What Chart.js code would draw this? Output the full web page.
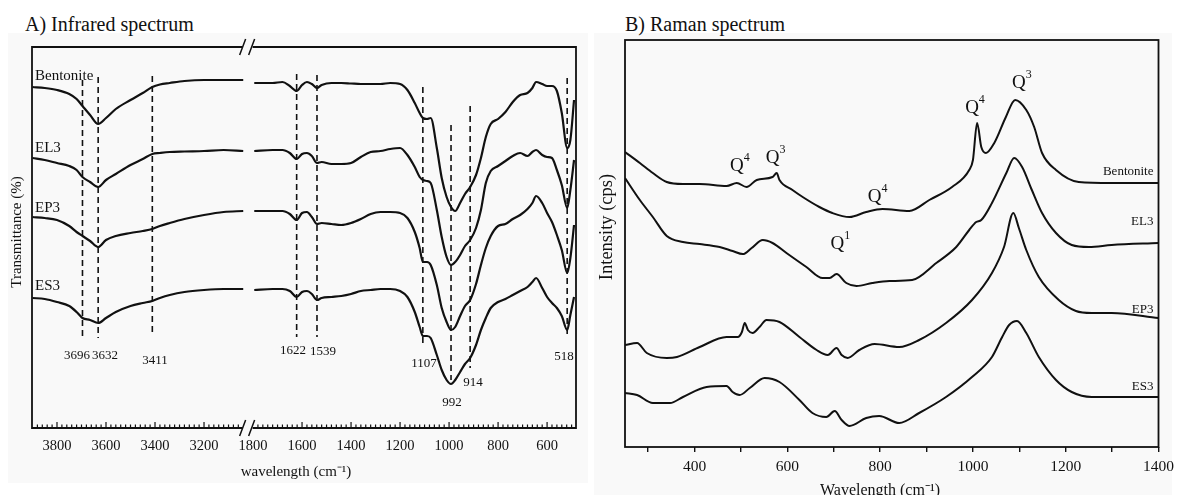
<!DOCTYPE html>
<html>
<head>
<meta charset="utf-8">
<script src="https://cdn.jsdelivr.net/npm/chart.js@4"></script>
<style>
body { margin: 0; background: #fff; font-family: "Liberation Serif", serif; }
#wrap { position: relative; width: 1180px; height: 495px; overflow: hidden; }
.panel { position: absolute; background: #f9f9f9; }
canvas { position: absolute; top: 0; }
.title { position: absolute; font-size: 20px; color: #111; white-space: nowrap; }
</style>
</head>
<body>
<div id="wrap">
  <div class="panel" style="left:8px;top:33px;width:580px;height:450px"></div>
  <div class="panel" style="left:594px;top:33px;width:578px;height:462px"></div>
  <div class="title" style="left:25px;top:13px">A) Infrared spectrum</div>
  <div class="title" style="left:625px;top:13px">B) Raman spectrum</div>
  <canvas id="irChart" width="590" height="495" style="left:0"></canvas>
  <canvas id="ramanChart" width="590" height="495" style="left:590px"></canvas>
</div>
<script>
// ---- IR data (offset transmittance, arbitrary units) ----
const irSamples = ['Bentonite', 'EL3', 'EP3', 'ES3'];
const irWaveHigh = [3900,3850,3800,3750,3720,3696,3665,3632,3600,3560,3500,3450,3411,3380,3340,3280,3200,3120,3040];
const irWaveLow = [1795,1720,1680,1650,1622,1600,1580,1560,1539,1520,1480,1440,1400,1360,1320,1280,1240,1200,1170,1140,
  1120,1107,1090,1075,1050,1030,1010,992,975,955,935,914,890,870,850,830,800,770,740,710,680,660,645,620,600,580,560,540,518,505,490];

const irBentoniteHigh = [341,340,338,334,329,322,313,304,310,319,328,335,341,343.5,345,347,348,348,348];
const irEL3High = [270,268,265,262,258,251,246,241,248,254,263,269,274,275,276,276.5,277,278,277];
const irEP3High = [211,210,208,202,196,192,187,181,188,192,195,197,199,202,205,209,213,216,217];
const irES3High = [130,129,126,122,116,110,108,105,110,116,122,125,127,130,133,136,138,139,139];

const irBentoniteLow = [345,345,346,342,337,343,346,344,340,343,345,345,344.5,344,344,344,345,344,338,325,
  315,310,309,310,280,250,231,221,217,225,234,241,253,270,291,304,309,316,326,333,335,340,346,344,342,342,337,315,280,288,328];
const irEL3Low = [277,278,278,275,269,274,275,272,265,266,264,264,265,271,276,277,279,280,273,261,
  251,248,247,245,218,191,171,163,166,173,182,188,200,218,245,257,262,267,272,275,272,276,278,273,271,270,258,243,220,238,268];
const irEP3Low = [217,217,217,214,208,215,216,211,204,205,204,203,205,209,214,216,216,215,210,196,
  180,166,166,163,143,120,106,98,101,112,122,128,144,163,180,192,202,204,209,213,219,225,232,225,215,206,193,178,155,170,203];
const irES3Low = [138,139,139,137,131,136,137,134,128,130,131,132,134,137,138,139,139,137,131,116,
  101,92,92,90,73,58,48,44,48,56,64,70,83,98,110,120,126,129,133,137,141,146,150,140,131,125,120,112,98,113,131];

const irPeaks = [3696, 3632, 3411, 1622, 1539, 1107, 992, 914, 518];
const irTickLabels = [3800, 3600, 3400, 3200, 1800, 1600, 1400, 1200, 1000, 800, 600];

// ---- Raman data (offset intensity, arbitrary units) ----
const ramanSamples = ['Bentonite', 'EL3', 'EP3', 'ES3'];
const ramanWaveBentonite = [250,282,310,340,375,411,469,491,512,534,568,577,583,611,633,669,697,734,770,805,863,906,955,992,1000,1009,1018,1028,1046,1071,1091,1115,1132,1149,1179,1228,1299,1400];
const ramanBentonite = [295,284,274,265,263,263,261,264,260,267,270,274,267,257,250,240,234,230,235,238,236,247,260,277,287,324,300,294,304,330,347,337,320,294,277,265,264,264];
const ramanWaveEL3 = [250,282,310,340,375,411,454,482,504,523,547,568,598,641,676,691,706,727,749,783,820,869,921,964,992,1007,1018,1041,1072,1089,1106,1127,1149,1179,1213,1250,1299,1400];
const ramanEL3 = [269,247,230,211,205,203,200,196,193,199,207,204,194,180,169,169,173,164,161,164,166,167,184,200,217,225,227,244,274,289,280,257,234,214,202,200,202,204];
const ramanWaveEP3 = [250,276,297,340,362,411,469,493,502,508,515,525,540,555,583,626,663,687,706,717,730,755,788,841,884,942,998,1041,1067,1087,1099,1115,1142,1185,1222,1256,1299,1400];
const ramanEP3 = [102,104,94,89,90,100,110,110,115,124,117,114,120,127,125,110,97,92,99,92,89,97,103,100,107,124,147,174,200,234,219,197,170,147,136,134,134,129];
const ramanWaveES3 = [250,276,310,347,375,426,469,482,497,519,551,583,626,654,684,702,717,734,770,798,841,884,942,998,1041,1063,1078,1095,1115,1142,1179,1213,1256,1400];
const ramanES3 = [54,52,44,44,50,60,61,55,52,59,69,65,47,34,30,36,27,21,29,31,24,34,50,70,90,110,122,126,114,90,67,55,50,50];
const ramanTickLabels = [400, 600, 800, 1000, 1200, 1400];

// high-frequency part of the IR axis is drawn shifted left by this amount (axis break)
const BREAK_SHIFT = 1200;
const toAxis = w => (w > 2000 ? w - BREAK_SHIFT : w);
const fromAxis = p => (p > 1830 ? p + BREAK_SHIFT : p);

const INK = '#111';
const SERIF = '"Liberation Serif", "Times New Roman", serif';
Chart.defaults.font.family = SERIF;
Chart.defaults.color = INK;

function irSeries(high, low) {
  const pts = irWaveHigh.map((w, i) => ({ x: toAxis(w), y: high[i] }));
  pts.push({ x: 1820, y: null });
  return pts.concat(irWaveLow.map((w, i) => ({ x: w, y: low[i] })));
}
const irHigh = [irBentoniteHigh, irEL3High, irEP3High, irES3High];
const irLow = [irBentoniteLow, irEL3Low, irEP3Low, irES3Low];

// annotation placement (value units)
const irPeakSpan = [[348,90],[351,90],[352,92],[354,91],[353,91],[341,81],[303,48],[322,60],[350,91]];
const irPeakLabelAt = [[3718,72],[3604,72],[3400,67],[1637,77],[1514,76],[1102,64],[988,25],[902,45],[531,71]];
const irNameLevel = [352, 280, 220, 142];

const irDecor = {
  id: 'irDecor',
  beforeDatasetsDraw(chart) {
    const { ctx, scales: { x, y } } = chart;
    ctx.save();
    ctx.strokeStyle = INK;
    ctx.lineWidth = 1.6;
    ctx.setLineDash([6, 4]);
    irPeaks.forEach((w, i) => {
      const px = x.getPixelForValue(toAxis(w));
      ctx.beginPath();
      ctx.moveTo(px, y.getPixelForValue(irPeakSpan[i][0]));
      ctx.lineTo(px, y.getPixelForValue(irPeakSpan[i][1]));
      ctx.stroke();
    });
    ctx.restore();
  },
  afterDraw(chart) {
    const { ctx, chartArea: a, scales: { x, y } } = chart;
    const bx = x.getPixelForValue(1822);
    ctx.save();
    ctx.strokeStyle = INK;
    ctx.lineWidth = 1.8;
    ctx.beginPath();
    ctx.moveTo(bx - 5, a.top); ctx.lineTo(a.left, a.top); ctx.lineTo(a.left, a.bottom); ctx.lineTo(bx - 5, a.bottom);
    ctx.moveTo(bx + 5, a.top); ctx.lineTo(a.right, a.top); ctx.lineTo(a.right, a.bottom); ctx.lineTo(bx + 5, a.bottom);
    ctx.stroke();
    // break marks
    ctx.lineWidth = 1.5;
    [a.top, a.bottom].forEach(yy => {
      ctx.beginPath();
      ctx.moveTo(bx - 8, yy + 8); ctx.lineTo(bx - 2, yy - 8);
      ctx.moveTo(bx + 1, yy + 8); ctx.lineTo(bx + 7, yy - 8);
      ctx.stroke();
    });
    // inward ticks
    ctx.lineWidth = 1.2;
    const tick = w => {
      const px = x.getPixelForValue(toAxis(w));
      if (px < a.left + 1 || px > a.right - 1 || Math.abs(px - bx) < 6) return;
      const len = w % 200 === 0 ? 6 : 3.5;
      ctx.beginPath(); ctx.moveTo(px, a.bottom); ctx.lineTo(px, a.bottom - len); ctx.stroke();
    };
    for (let w = 3900; w >= 3020; w -= 20) tick(w);
    for (let w = 1800; w >= 490; w -= 20) tick(w);
    // texts
    ctx.fillStyle = INK;
    ctx.textBaseline = 'middle';
    ctx.textAlign = 'left';
    ctx.font = '15px ' + SERIF;
    irSamples.forEach((s, i) => ctx.fillText(s, a.left + 3, y.getPixelForValue(irNameLevel[i])));
    ctx.textAlign = 'center';
    ctx.font = '13px ' + SERIF;
    irPeaks.forEach((w, i) => {
      const [lw, lv] = irPeakLabelAt[i];
      ctx.fillText(String(w), x.getPixelForValue(toAxis(lw)), y.getPixelForValue(lv));
    });
    ctx.font = '15px ' + SERIF;
    ctx.fillText('wavelength (cm\u207B\u00B9)', a.left + 264, a.bottom + 44);
    ctx.translate(17, 232);
    ctx.rotate(-Math.PI / 2);
    ctx.fillText('Transmittance (%)', 0, 0);
    ctx.restore();
  }
};

new Chart(document.getElementById('irChart'), {
  type: 'line',
  data: {
    datasets: irSamples.map((name, k) => ({ label: name, data: irSeries(irHigh[k], irLow[k]) }))
  },
  options: {
    responsive: false,
    animation: false,
    layout: { padding: { left: 0, top: 47, right: 14, bottom: 0 } },
    plugins: { legend: { display: false }, tooltip: { enabled: false } },
    elements: {
      point: { radius: 0 },
      line: { borderWidth: 2.2, borderColor: INK, tension: 0.4, cubicInterpolationMode: 'monotone' }
    },
    scales: {
      x: {
        type: 'linear', reverse: true, min: 482, max: 2702,
        afterFit: s => { s.height = 67; },
        afterBuildTicks: s => { s.ticks = irTickLabels.map(w => ({ value: toAxis(w) })); },
        grid: { display: false, drawTicks: false },
        border: { display: false },
        ticks: { padding: 9, autoSkip: false, maxRotation: 0, font: { size: 14.5 }, callback: v => String(fromAxis(v)) }
      },
      y: {
        min: 0, max: 381,
        afterFit: s => { s.width = 32; },
        ticks: { display: false },
        grid: { display: false },
        border: { display: false }
      }
    }
  },
  plugins: [irDecor]
});

// ---- Raman ----
const ramanWaves = [ramanWaveBentonite, ramanWaveEL3, ramanWaveEP3, ramanWaveES3];
const ramanValues = [ramanBentonite, ramanEL3, ramanEP3, ramanES3];
const ramanNameLevel = [275, 225, 137, 60];
// Q-species labels: [superscript, wavenumber, level]
const ramanQ = [['4', 491, 281], ['3', 568, 289], ['4', 788, 250], ['1', 708, 203], ['4', 998, 339], ['3', 1099, 364]];

const ramanDecor = {
  id: 'ramanDecor',
  afterDraw(chart) {
    const { ctx, chartArea: a, scales: { x, y } } = chart;
    ctx.save();
    ctx.strokeStyle = INK;
    ctx.lineWidth = 1.8;
    ctx.strokeRect(a.left, a.top, a.right - a.left, a.bottom - a.top);
    ctx.fillStyle = INK;
    ctx.textBaseline = 'middle';
    ctx.textAlign = 'right';
    ctx.font = '13px ' + SERIF;
    ramanSamples.forEach((s, i) => ctx.fillText(s, a.right - 5, y.getPixelForValue(ramanNameLevel[i])));
    ctx.textAlign = 'left';
    ramanQ.forEach(([sup, w, v]) => {
      const cx = x.getPixelForValue(w), cy = y.getPixelForValue(v);
      ctx.font = '19px ' + SERIF;
      const qw = ctx.measureText('Q').width;
      ctx.fillText('Q', cx - qw / 2, cy);
      ctx.font = '12px ' + SERIF;
      ctx.fillText(sup, cx + qw / 2, cy - 8);
    });
    ctx.textAlign = 'center';
    ctx.font = '16px ' + SERIF;
    ctx.fillText('Wavelength (cm\u207B\u00B9)', 290, a.bottom + 44);
    ctx.font = '18.5px ' + SERIF;
    ctx.translate(17, 227);
    ctx.rotate(-Math.PI / 2);
    ctx.fillText('Intensity (cps)', 0, 0);
    ctx.restore();
  }
};

new Chart(document.getElementById('ramanChart'), {
  type: 'line',
  data: {
    datasets: ramanSamples.map((name, k) => ({
      label: name,
      data: ramanWaves[k].map((w, i) => ({ x: w, y: ramanValues[k][i] }))
    }))
  },
  options: {
    responsive: false,
    animation: false,
    layout: { padding: { left: 0, top: 40, right: 20, bottom: 0 } },
    plugins: { legend: { display: false }, tooltip: { enabled: false } },
    elements: {
      point: { radius: 0 },
      line: { borderWidth: 2, borderColor: INK, tension: 0.4, cubicInterpolationMode: 'monotone' }
    },
    scales: {
      x: {
        type: 'linear', min: 250, max: 1400,
        afterFit: s => { s.height = 48; },
        afterBuildTicks: s => {
          const t = [];
          for (let v = 300; v <= 1400; v += 100) t.push({ value: v });
          s.ticks = t;
        },
        grid: { display: true, drawOnChartArea: false, drawTicks: true, tickLength: 5, color: INK, lineWidth: 1.4 },
        border: { display: false },
        ticks: { padding: 6, autoSkip: false, maxRotation: 0, font: { size: 15.5 },
          callback: v => (ramanTickLabels.includes(v) ? String(v) : '') }
      },
      y: {
        min: 0, max: 407,
        afterFit: s => { s.width = 35; },
        ticks: { display: false },
        grid: { display: false },
        border: { display: false }
      }
    }
  },
  plugins: [ramanDecor]
});
</script>
</body>
</html>
